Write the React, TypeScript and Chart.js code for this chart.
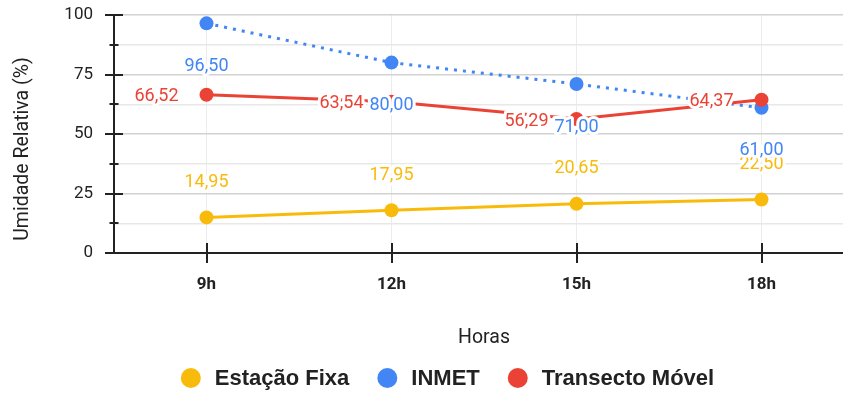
import React, { useEffect, useRef } from 'react';
import { Chart, registerables } from 'chart.js';

Chart.register(...registerables);

const categories = ['9h', '12h', '15h', '18h'];
const estacaoFixa = [14.95, 17.95, 20.65, 22.5];
const inmet = [96.5, 80.0, 71.0, 61.0];
const transectoMovel = [66.52, 63.54, 56.29, 64.37];
const seriesNames = ['Estação Fixa', 'INMET', 'Transecto Móvel'];
const seriesColors = ['#F9BB0B', '#4285F4', '#EA4335'];
const drawOrder = [1, 2, 0];
const yMajorTicks = [0, 25, 50, 75, 100];
const yTitle = 'Umidade Relativa (%)';
const xTitle = 'Horas';

const FONT = 'Roboto, Arial, sans-serif';
const LEGEND_FONT = '"Liberation Sans", Arial, sans-serif';
const W = 861;
const H = 396;
const AREA_LEFT = 114;
const AREA_TOP = 15;
const AREA_BOTTOM = 253;

const fmt = (v: number) => v.toFixed(2).replace('.', ',');

const decorPlugin = {
  id: 'decor',
  beforeDatasetsDraw(chart: any) {
    const { ctx, chartArea, scales } = chart;
    const y = scales.y;
    const x = scales.x;
    ctx.save();
    ctx.strokeStyle = '#222';
    ctx.lineWidth = 2;
    ctx.beginPath();
    ctx.moveTo(chartArea.left, chartArea.top);
    ctx.lineTo(chartArea.left, chartArea.bottom);
    ctx.moveTo(chartArea.left, chartArea.bottom);
    ctx.lineTo(chartArea.right, chartArea.bottom);
    ctx.stroke();
    y.ticks.forEach((t: any) => {
      const py = Math.round(y.getPixelForValue(t.value));
      const major = yMajorTicks.includes(t.value);
      const half = major ? 9 : 4.5;
      ctx.beginPath();
      ctx.moveTo(chartArea.left - half, py);
      ctx.lineTo(chartArea.left + half, py);
      ctx.stroke();
    });
    categories.forEach((_, i) => {
      const px = Math.round(x.getPixelForValue(i));
      ctx.beginPath();
      ctx.moveTo(px, chartArea.bottom - 10);
      ctx.lineTo(px, chartArea.bottom + 10);
      ctx.stroke();
    });
    ctx.restore();
  },
  afterDatasetsDraw(chart: any) {
    const { ctx, chartArea } = chart;
    ctx.save();
    const order = [0, 2, 1];
    ctx.font = `18px ${FONT}`;
    ctx.lineJoin = 'round';
    order.forEach((di) => {
      const meta = chart.getDatasetMeta(di);
      const ds = chart.data.datasets[di];
      meta.data.forEach((pt: any, i: number) => {
        const text = fmt(ds.data[i]);
        let tx = pt.x;
        let ty = pt.y;
        if (di === 0) {
          ctx.textAlign = 'center';
          ty = pt.y - 35;
        } else if (di === 1) {
          ctx.textAlign = 'center';
          ty = pt.y + 43;
        } else {
          ctx.textAlign = 'right';
          tx = pt.x - 28;
          ty = pt.y + 2;
        }
        ctx.textBaseline = 'middle';
        ctx.strokeStyle = '#ffffff';
        ctx.lineWidth = 6;
        ctx.strokeText(text, tx, ty);
        ctx.fillStyle = seriesColors[di];
        ctx.fillText(text, tx, ty);
      });
    });

    ctx.fillStyle = '#222';
    ctx.font = `19.5px ${FONT}`;
    ctx.textAlign = 'center';
    ctx.textBaseline = 'middle';
    ctx.save();
    ctx.translate(23, 149);
    ctx.rotate(-Math.PI / 2);
    ctx.fillText(yTitle, 0, 0);
    ctx.restore();

    ctx.font = `19.5px ${FONT}`;
    ctx.fillText(xTitle, (chartArea.left + chartArea.right) / 2, 338);

    ctx.font = `bold 22px ${LEGEND_FONT}`;
    const r = 10;
    const gapText = 24;
    const gapItem = 38;
    let total = 0;
    seriesNames.forEach((n, i) => {
      total += gapText + ctx.measureText(n).width + (i < seriesNames.length - 1 ? gapItem : 0);
    });
    total += r;
    let cx = 447.5 - total / 2 + r;
    const ly = 378;
    seriesNames.forEach((n, i) => {
      ctx.fillStyle = seriesColors[i];
      ctx.beginPath();
      ctx.arc(cx, ly, r, 0, Math.PI * 2);
      ctx.fill();
      ctx.fillStyle = '#222';
      ctx.textAlign = 'left';
      ctx.fillText(n, cx + gapText, ly + 1);
      cx += gapText + ctx.measureText(n).width + gapItem;
    });
    ctx.restore();
  },
};

export default function App() {
  const ref = useRef<HTMLCanvasElement>(null);
  useEffect(() => {
    document.body.style.margin = '0';
    const seriesData = [estacaoFixa, inmet, transectoMovel];
    const chart = new Chart(ref.current!, {
      type: 'line',
      data: {
        labels: categories,
        datasets: seriesNames.map((name, i) => ({
          label: name,
          data: seriesData[i],
          order: drawOrder[i],
          borderColor: seriesColors[i],
          backgroundColor: seriesColors[i],
          pointBackgroundColor: seriesColors[i],
          borderWidth: 3,
          borderDash: i === 1 ? [3, 6] : [],
          pointRadius: 7,
          pointHoverRadius: 7,
          pointBorderWidth: 0,
          tension: 0,
          fill: false,
        })),
      },
      options: {
        animation: false,
        responsive: false,
        maintainAspectRatio: false,
        layout: { padding: { top: AREA_TOP, left: 0, right: 0, bottom: 0 } },
        plugins: { legend: { display: false }, tooltip: { enabled: false } },
        scales: {
          x: {
            offset: true,
            grid: { display: true, color: '#ececec', drawTicks: false, lineWidth: 1 },
            border: { display: false },
            ticks: { font: { family: FONT, size: 17, weight: 'bold' }, color: '#222', padding: 22 },
            afterFit: (s: any) => {
              s.height = H - AREA_BOTTOM;
            },
          },
          y: {
            min: 0,
            max: 100,
            ticks: {
              stepSize: 12.5,
              callback: (v: any) => (yMajorTicks.includes(Number(v)) ? String(v) : ''),
              font: { family: FONT, size: 17 },
              color: '#222',
              padding: 21,
            },
            grid: {
              color: (c: any) => (yMajorTicks.includes(c.tick?.value) ? '#d2d2d2' : '#e8e8e8'),
              drawTicks: false,
              lineWidth: 1.5,
            },
            border: { display: false },
            afterFit: (s: any) => {
              s.width = AREA_LEFT;
              s.paddingTop = 0;
              s.paddingBottom = 0;
            },
          },
        },
      },
      plugins: [decorPlugin],
    } as any);
    return () => chart.destroy();
  }, []);
  return (
    <div style={{ position: 'fixed', left: 0, top: 0, width: 843, height: 396, overflow: 'hidden', background: '#fff' }}>
      <canvas ref={ref} width={W} height={H} style={{ width: W, height: H, display: 'block' }} />
    </div>
  );
}
